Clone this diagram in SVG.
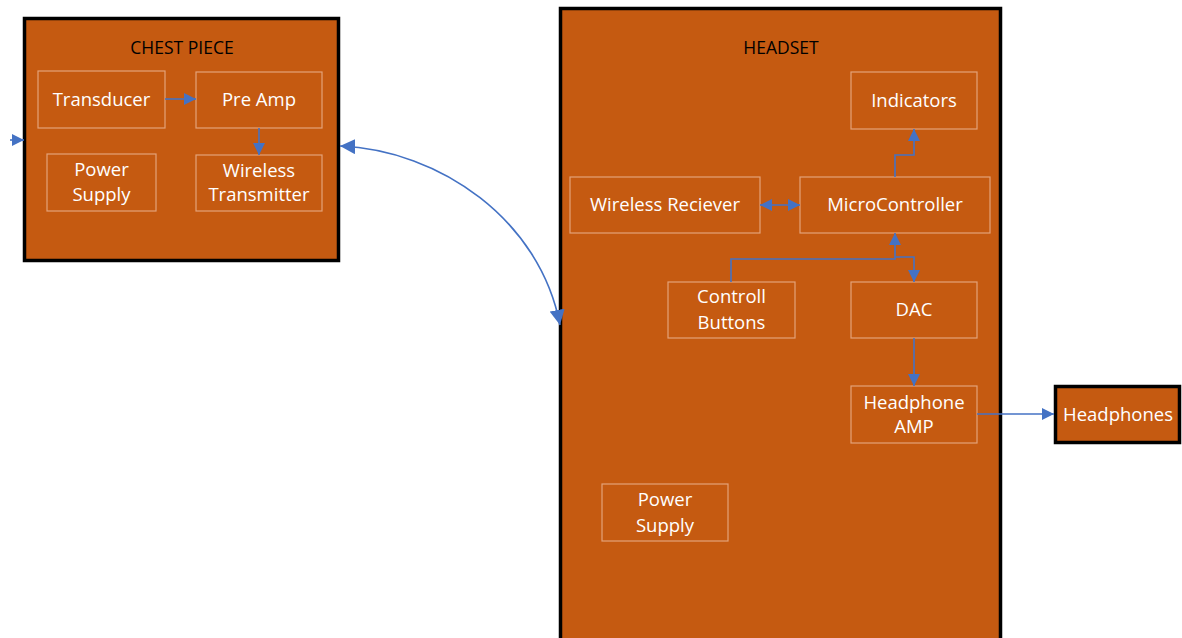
<svg xmlns="http://www.w3.org/2000/svg" width="1182" height="638" viewBox="0 0 1182 638">
  <style>
    .unit { fill: #C55A11; stroke: #000; stroke-width: 3.5; }
    .block { fill: #C55A11; stroke: #E3A27A; stroke-width: 1.2; }
    .title { font-family: "Open Sans", Lato, sans-serif; font-size: 17.5px; fill: #000; text-anchor: middle; }
    .label { font-family: "Open Sans", Lato, sans-serif; font-size: 18.5px; fill: #fff; text-anchor: middle; }
    .wire { fill: none; stroke: #4472C4; stroke-width: 1.6; }
  </style>
  <defs>
    <marker id="head" viewBox="0 0 10 10" refX="10" refY="5" markerWidth="7.5" markerHeight="7.5" orient="auto-start-reverse" markerUnits="strokeWidth">
      <path d="M0,0 L10,5 L0,10 Z" fill="#4472C4"/>
    </marker>
    <marker id="bighead" viewBox="0 0 10 10" refX="10" refY="5" markerWidth="9.5" markerHeight="9.5" orient="auto-start-reverse" markerUnits="strokeWidth">
      <path d="M0,0 L10,5 L0,10 Z" fill="#4472C4"/>
    </marker>
  </defs>

  <!-- chest piece unit -->
  <g id="chest-piece">
    <rect class="unit" x="24.5" y="18.5" width="314" height="242"/>
    <text class="title" x="182" y="54">CHEST PIECE</text>
  </g>
  <g id="transducer">
    <rect class="block" x="38" y="71" width="127" height="57"/>
    <text class="label" x="101.5" y="106">Transducer</text>
  </g>
  <g id="pre-amp">
    <rect class="block" x="196" y="72" width="126" height="56"/>
    <text class="label" x="259" y="106">Pre Amp</text>
  </g>
  <g id="chest-power-supply">
    <rect class="block" x="47" y="154" width="109" height="57"/>
    <text class="label" x="101.5" y="176">Power</text>
    <text class="label" x="101.5" y="201">Supply</text>
  </g>
  <g id="wireless-transmitter">
    <rect class="block" x="196" y="155" width="126" height="56"/>
    <text class="label" x="259" y="177">Wireless</text>
    <text class="label" x="259" y="201">Transmitter</text>
  </g>

  <!-- headset unit -->
  <g id="headset">
    <rect class="unit" x="560.5" y="8.5" width="440" height="640"/>
    <text class="title" x="781" y="54">HEADSET</text>
  </g>
  <g id="indicators">
    <rect class="block" x="851" y="72" width="126" height="57"/>
    <text class="label" x="914" y="107">Indicators</text>
  </g>
  <g id="wireless-reciever">
    <rect class="block" x="570" y="177" width="190" height="56"/>
    <text class="label" x="665" y="211">Wireless Reciever</text>
  </g>
  <g id="microcontroller">
    <rect class="block" x="800" y="177" width="190" height="56"/>
    <text class="label" x="895" y="211">MicroController</text>
  </g>
  <g id="controll-buttons">
    <rect class="block" x="668" y="282" width="127" height="56"/>
    <text class="label" x="731.5" y="303">Controll</text>
    <text class="label" x="731.5" y="329">Buttons</text>
  </g>
  <g id="dac">
    <rect class="block" x="851" y="282" width="126" height="56"/>
    <text class="label" x="914" y="316">DAC</text>
  </g>
  <g id="headphone-amp">
    <rect class="block" x="851" y="386" width="126" height="57"/>
    <text class="label" x="914" y="409">Headphone</text>
    <text class="label" x="914" y="433">AMP</text>
  </g>
  <g id="headset-power-supply">
    <rect class="block" x="602" y="484" width="126" height="57"/>
    <text class="label" x="665" y="506">Power</text>
    <text class="label" x="665" y="532">Supply</text>
  </g>

  <!-- external headphones -->
  <g id="headphones">
    <rect class="unit" x="1055.5" y="386.5" width="124" height="56"/>
    <text class="label" x="1118" y="421">Headphones</text>
  </g>

  <!-- signal paths -->
  <g id="connectors">
    <path class="wire" d="M10,140 H24" marker-end="url(#head)"/>
    <path class="wire" d="M165,99 H196" marker-end="url(#head)"/>
    <path class="wire" d="M259,128 V155" marker-end="url(#head)"/>
    <path class="wire" d="M340,146 C440,150 540,220 560,325" marker-start="url(#bighead)" marker-end="url(#bighead)"/>
    <path class="wire" d="M760,205 H800" marker-start="url(#head)" marker-end="url(#head)"/>
    <path class="wire" d="M895,177 V155 H914 V129" marker-end="url(#head)"/>
    <path class="wire" d="M731,282 V259 H895 V233" marker-end="url(#head)"/>
    <path class="wire" d="M895,257 H914 V282" marker-end="url(#head)"/>
    <path class="wire" d="M914,338 V386" marker-end="url(#head)"/>
    <path class="wire" d="M977,414 H1054" marker-end="url(#head)"/>
  </g>
</svg>
